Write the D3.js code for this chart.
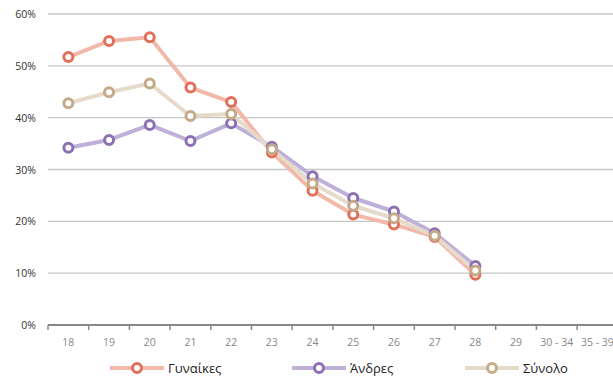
<!DOCTYPE html>
<html>
<head>
<meta charset="utf-8">
<script src="https://cdn.jsdelivr.net/npm/d3@7"></script>
<style>
  body { margin: 0; background: #fff; }
  text { font-family: "Open Sans", "Noto Sans", sans-serif; }
</style>
</head>
<body>
<svg id="chart" width="613" height="383"></svg>
<script>
const categories = ['18', '19', '20', '21', '22', '23', '24', '25', '26', '27', '28', '29', '30 - 34', '35 - 39'];
const women = [51.7, 54.8, 55.5, 45.8, 43.0, 33.3, 25.9, 21.3, 19.4, 17.0, 9.7, null, null, null];
const men   = [34.2, 35.7, 38.6, 35.5, 38.9, 34.4, 28.7, 24.5, 21.9, 17.7, 11.4, null, null, null];
const total = [42.8, 44.9, 46.6, 40.3, 40.7, 33.9, 27.3, 23.0, 20.6, 17.2, 10.5, null, null, null];
const yTicks = [0, 10, 20, 30, 40, 50, 60];

const series = [
  { name: 'Γυναίκες', values: women, line: '#F2B9AA', marker: '#E0705A' },
  { name: 'Άνδρες',  values: men,   line: '#BEB0D8', marker: '#8D70B4' },
  { name: 'Σύνολο',  values: total, line: '#E6DACA', marker: '#C4AA88' }
];

const svg = d3.select('#chart');
const left = 48, step = 40.7;

const x = d3.scaleBand()
  .domain(categories)
  .range([left, left + step * categories.length]);

const y = d3.scaleLinear()
  .domain([0, 60])
  .range([325, 14]);

// gridlines
svg.append('g')
  .selectAll('line')
  .data(yTicks.filter(d => d > 0))
  .join('line')
  .attr('x1', left)
  .attr('x2', 613)
  .attr('y1', d => y(d))
  .attr('y2', d => y(d))
  .attr('stroke', '#c6c6c6')
  .attr('stroke-width', 1.3);

// y labels
svg.append('g')
  .selectAll('text')
  .data(yTicks)
  .join('text')
  .attr('x', 36)
  .attr('y', d => y(d) + 4)
  .attr('text-anchor', 'end')
  .attr('font-size', 10.5)
  .attr('fill', '#333')
  .text(d => d + '%');

// x axis
const xAxis = svg.append('g').attr('transform', `translate(0,${y(0)})`);
xAxis.append('line')
  .attr('x1', left).attr('x2', 613)
  .attr('stroke', '#888').attr('stroke-width', 2);
xAxis.selectAll('.tick')
  .data(categories)
  .join('line')
  .attr('x1', d => x(d)).attr('x2', d => x(d))
  .attr('y1', 0).attr('y2', 5)
  .attr('stroke', '#888').attr('stroke-width', 1.5);
xAxis.selectAll('text')
  .data(categories)
  .join('text')
  .attr('x', d => x(d) + x.bandwidth() / 2)
  .attr('y', 21)
  .attr('text-anchor', 'middle')
  .attr('font-size', 10.5)
  .attr('fill', '#888')
  .text(d => d);

const cx = i => x(categories[i]) + x.bandwidth() / 2;

const line = d3.line()
  .defined(d => d != null)
  .x((d, i) => cx(i))
  .y(d => y(d));

series.forEach(s => {
  svg.append('path')
    .datum(s.values)
    .attr('fill', 'none')
    .attr('stroke', s.line)
    .attr('stroke-width', 4)
    .attr('stroke-linejoin', 'round')
    .attr('d', line);
});

series.forEach(s => {
  svg.append('g')
    .selectAll('circle')
    .data(s.values.map((v, i) => ({ v, i })).filter(d => d.v != null))
    .join('circle')
    .attr('cx', d => cx(d.i))
    .attr('cy', d => y(d.v))
    .attr('r', 4.5)
    .attr('fill', '#fff')
    .attr('stroke', s.marker)
    .attr('stroke-width', 3);
});

// legend
const legendX = [110, 292, 465];
series.forEach((s, i) => {
  const g = svg.append('g').attr('transform', `translate(${legendX[i]},368)`);
  g.append('line')
    .attr('x1', 0).attr('x2', 54)
    .attr('stroke', s.line).attr('stroke-width', 4);
  g.append('circle')
    .attr('cx', 27).attr('r', 4.5)
    .attr('fill', '#fff').attr('stroke', s.marker).attr('stroke-width', 3);
  g.append('text')
    .attr('x', 58).attr('y', 5)
    .attr('font-size', 13)
    .attr('fill', '#222')
    .text(s.name);
});
</script>
</body>
</html>
